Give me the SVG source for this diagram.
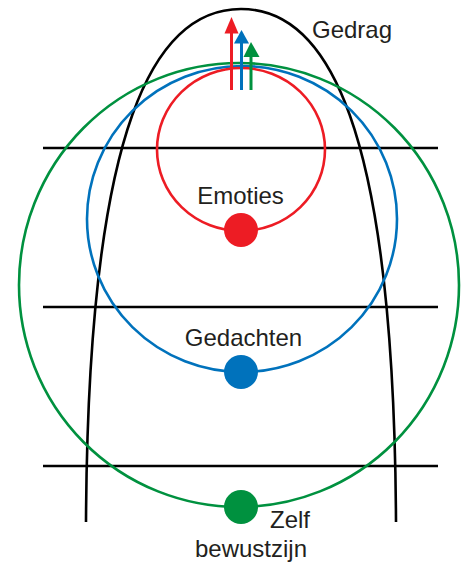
<svg xmlns="http://www.w3.org/2000/svg" width="461" height="562" viewBox="0 0 461 562">
<style>
.lbl{font-family:"Liberation Sans",Arial,sans-serif;font-size:24px;fill:#231f20}
.blk{fill:none;stroke:#000;stroke-width:2.6}
.ring{fill:none;stroke-width:2.6}
.red{stroke:#ed1c24}.blue{stroke:#0072bc}.green{stroke:#00913f}
</style>
<rect width="461" height="562" fill="#fff"/>
<g id="gedrag">
<path class="blk" d="M86,522 C88,120 156,9 241,9 C326,9 394,120 396,522"/>
<text class="lbl" x="312" y="38">Gedrag</text>
</g>
<g id="levels">
<line class="blk" x1="43" y1="148" x2="438" y2="148"/>
<line class="blk" x1="43" y1="307" x2="438" y2="307"/>
<line class="blk" x1="43" y1="466" x2="438" y2="466"/>
</g>
<g id="zelfbewustzijn">
<ellipse class="ring green" cx="239" cy="285" rx="220" ry="222"/>
<circle cx="241" cy="507" r="17" fill="#00913f"/>
<text class="lbl" x="270" y="528">Zelf</text>
<text class="lbl" x="251" y="557" text-anchor="middle">bewustzijn</text>
</g>
<g id="gedachten">
<ellipse class="ring blue" cx="242" cy="219" rx="155" ry="153"/>
<circle cx="241" cy="372" r="17" fill="#0072bc"/>
<text class="lbl" x="243.5" y="346" text-anchor="middle">Gedachten</text>
</g>
<g id="emoties">
<ellipse class="ring red" cx="241" cy="149.5" rx="84" ry="81.5"/>
<circle cx="241" cy="230" r="17" fill="#ed1c24"/>
<text class="lbl" x="240.5" y="204" text-anchor="middle">Emoties</text>
</g>
<g id="connectors">
<line x1="231.5" y1="90" x2="231.5" y2="32" stroke="#ed1c24" stroke-width="3"/>
<polygon points="231.5,17 224.5,33.5 238.5,33.5" fill="#ed1c24"/>
<line x1="241.5" y1="90" x2="241.5" y2="42" stroke="#0072bc" stroke-width="3"/>
<polygon points="241.5,30 234,43.5 249,43.5" fill="#0072bc"/>
<line x1="251" y1="90" x2="251" y2="56" stroke="#00913f" stroke-width="3"/>
<polygon points="251,42 243.5,57 259.5,57" fill="#00913f"/>
</g>
</svg>
